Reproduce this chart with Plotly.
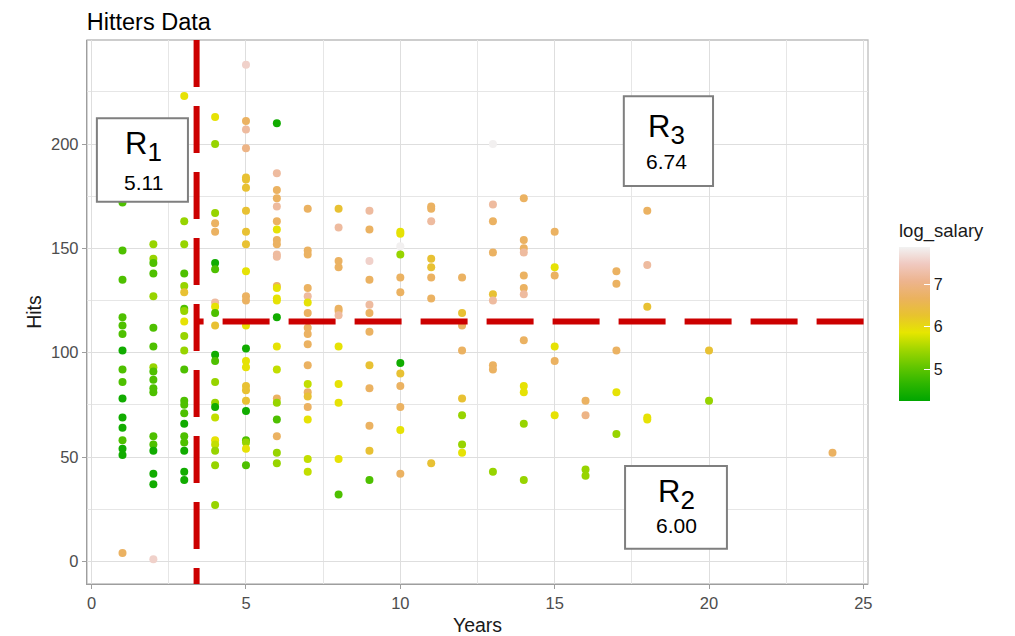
import plotly.graph_objects as go

# colour codes -> log salary estimate
DG, G, YG, LY, Y, GY, O, OP, P, PP, W = 4.4, 4.9, 5.4, 5.65, 5.9, 6.3, 6.7, 7.0, 7.2, 7.55, 7.85

years_1 = [172, 149, 135, 117, 113, 109, 101, 92, 86, 78, 69, 64, 58, 54, 51, 4]
sal_1 = [G, G, G, G, G, G, DG, G, G, DG, DG, DG, G, DG, DG, O]
years_2 = [152, 145, 143, 138, 127, 112, 103, 93, 91, 87, 83, 81, 60, 56, 53, 42, 37, 1]
sal_2 = [YG, YG, G, G, YG, G, G, YG, G, G, G, G, G, G, DG, DG, DG, PP]
years_3 = [223, 163, 152, 138, 132, 129, 121, 120, 115, 108, 101, 92, 77, 75, 71, 66, 60, 57, 53, 43, 39]
sal_3 = [Y, YG, YG, G, YG, GY, G, YG, Y, YG, YG, G, G, G, G, DG, G, G, DG, DG, DG]
years_4 = [213, 200, 167, 162, 158, 143, 140, 124, 122, 119, 113, 99, 96, 86, 76, 74, 69, 58, 56, 53, 46, 27]
sal_4 = [Y, YG, YG, O, O, DG, G, P, Y, G, GY, DG, G, YG, YG, DG, LY, Y, LY, YG, YG, YG]
years_5 = [238, 211, 207, 198, 184, 183, 179, 168, 158, 152, 139, 127, 125, 113, 102, 96, 93, 84, 82, 77, 72, 58, 57, 54, 46]
sal_5 = [PP, O, P, OP, GY, GY, GY, GY, GY, GY, Y, O, O, Y, DG, Y, Y, GY, GY, GY, DG, G, YG, Y, G]
years_6 = [210, 186, 178, 174, 170, 163, 159, 154, 152, 147, 146, 132, 131, 126, 125, 117, 103, 92, 78, 76, 68, 60, 52, 47]
sal_6 = [DG, P, O, O, P, O, Y, O, O, P, P, O, Y, Y, Y, DG, Y, LY, O, YG, G, O, YG, YG]
years_7 = [169, 149, 147, 131, 127, 124, 119, 112, 109, 104, 94, 85, 81, 79, 74, 68, 49, 43]
sal_7 = [O, O, O, O, P, Y, O, O, O, O, O, LY, O, GY, O, Y, LY, LY]
years_8 = [169, 160, 144, 141, 121, 120, 118, 103, 85, 76, 49, 32]
sal_8 = [GY, P, O, O, O, O, P, Y, Y, Y, Y, G]
years_9 = [168, 159, 144, 135, 123, 119, 110, 94, 83, 65, 53, 39]
sal_9 = [P, O, PP, O, P, O, O, GY, O, O, GY, G]
years_10 = [158, 157, 151, 147, 136, 129, 95, 90, 84, 74, 63, 42]
sal_10 = [Y, Y, W, YG, O, O, DG, GY, O, O, Y, O]
years_11 = [170, 169, 163, 145, 141, 136, 126, 47]
sal_11 = [O, O, P, GY, GY, O, O, GY]
years_12 = [136, 119, 113, 101, 78, 70, 56, 52]
sal_12 = [O, GY, O, O, GY, YG, YG, Y]
years_13 = [200, 171, 163, 148, 128, 125, 94, 92, 43]
sal_13 = [W, P, O, O, GY, P, O, O, YG]
years_14 = [174, 154, 150, 148, 137, 131, 128, 106, 84, 81, 66, 39]
sal_14 = [O, O, O, P, O, O, P, O, Y, Y, YG, YG]
years_15 = [158, 141, 137, 103, 96, 70]
sal_15 = [O, Y, O, Y, O, Y]
years_16 = [77, 70, 44, 41]
sal_16 = [O, OP, YG, YG]
years_17 = [139, 133, 101, 81, 61]
sal_17 = [O, O, O, Y, YG]
years_18 = [168, 142, 122, 69, 68]
sal_18 = [O, P, GY, Y, Y]
years_20 = [101, 77]
sal_20 = [GY, YG]
years_24 = [52]
sal_24 = [O]

groups = {1: (years_1, sal_1), 2: (years_2, sal_2), 3: (years_3, sal_3), 4: (years_4, sal_4),
          5: (years_5, sal_5), 6: (years_6, sal_6), 7: (years_7, sal_7), 8: (years_8, sal_8),
          9: (years_9, sal_9), 10: (years_10, sal_10), 11: (years_11, sal_11), 12: (years_12, sal_12),
          13: (years_13, sal_13), 14: (years_14, sal_14), 15: (years_15, sal_15), 16: (years_16, sal_16),
          17: (years_17, sal_17), 18: (years_18, sal_18), 20: (years_20, sal_20), 24: (years_24, sal_24)}

Years, Hits, log_salary = [], [], []
for yr, (h, s) in groups.items():
    Years += [yr] * len(h)
    Hits += h
    log_salary += s

split_years = 3.4
split_hits = 115
region_subs = ["1", "2", "3"]
region_values = ["5.11", "6.00", "6.74"]

terrain = ["#00A600", "#2DB600", "#63C600", "#A0D600", "#E6E600",
           "#E8C32E", "#EBB25E", "#EDB48E", "#F0C9C0", "#F2F2F2"]
cscale = [[i / 9, c] for i, c in enumerate(terrain)]

FONT = "Liberation Sans, Arial, sans-serif"

fig = go.Figure()
fig.add_trace(go.Scatter(
    x=Years, y=Hits, mode="markers",
    marker=dict(size=8, color=log_salary, colorscale=cscale, cmin=4.25, cmax=7.87,
                line=dict(width=0),
                colorbar=dict(title=dict(text="log_salary", side="top",
                                         font=dict(size=18.5, color="#1a1a1a", family=FONT)),
                              tickvals=[5, 6, 7], ticks="inside", tickcolor="white", ticklen=6,
                              tickfont=dict(size=16, color="#1a1a1a", family=FONT),
                              thickness=31, lenmode="pixels", len=181,
                              x=1.0397, xanchor="left", xpad=0, ypad=0,
                              y=0.3364, yanchor="bottom", outlinewidth=0)),
    showlegend=False, hoverinfo="skip"))

red = "#CC0000"
shapes = [
    dict(type="line", xref="x", yref="paper", x0=split_years, x1=split_years, y0=1, y1=0,
         line=dict(color=red, width=6, dash="47px,19px")),
    dict(type="line", xref="x", yref="y", x0=split_years, x1=25.2, y0=split_hits, y1=split_hits,
         line=dict(color=red, width=6, dash="7px,19px,40px,0px")),
    dict(type="rect", xref="paper", yref="paper", x0=0, x1=1, y0=0, y1=1,
         line=dict(color="#BDBDBD", width=1.3), layer="below"),
]
boxes = [(0.17, 3.12, 172.3, 212.4), (17.28, 20.58, 6.1, 45.7), (17.24, 20.13, 179.9, 222.9)]
for (x0, x1, y0, y1) in boxes:
    shapes.append(dict(type="rect", xref="x", yref="y", x0=x0, x1=x1, y0=y0, y1=y1,
                       fillcolor="white", line=dict(color="#7F7F7F", width=2)))

annotations = []
label_pos = [(1.68, 198.6, 181.4), (18.95, 32.0, 17.0), (18.62, 207.2, 191.4)]
for (xc, yr, yv), s, v in zip(label_pos, region_subs, region_values):
    annotations.append(dict(x=xc, y=yr, xref="x", yref="y",
                            text="R<sub><span style='font-size:26px'>" + s + "</span></sub>",
                            showarrow=False,
                            font=dict(size=31, color="black", family=FONT), yanchor="middle"))
    annotations.append(dict(x=xc, y=yv, xref="x", yref="y", text=v, showarrow=False,
                            font=dict(size=21, color="black", family=FONT), yanchor="middle"))

axis_common = dict(showgrid=True, gridcolor="#DEDEDE", gridwidth=1, zeroline=False,
                   showline=True, linecolor="#9E9E9E", linewidth=1.3,
                   ticks="outside", ticklen=4, tickcolor="#9E9E9E", automargin=False,
                   tickfont=dict(size=16.5, color="#4D4D4D", family=FONT))

fig.update_layout(
    width=1007, height=628,
    margin=dict(l=79, r=147, t=32, b=52),
    paper_bgcolor="white", plot_bgcolor="white",
    title=dict(text="Hitters Data", x=0.0782, xanchor="left", y=1 - 13.5 / 628, yanchor="middle",
               font=dict(size=23.5, color="black", family=FONT)),
    xaxis=dict(range=[-0.15, 25.15], tick0=0, dtick=5,
               minor=dict(dtick=2.5, showgrid=True, gridcolor="#E6E6E6", ticks=""),
               title=dict(text="Years", font=dict(size=19.5, color="#1a1a1a", family=FONT), standoff=9),
               **axis_common),
    yaxis=dict(range=[-10.85, 249.85], tick0=0, dtick=50,
               minor=dict(dtick=25, showgrid=True, gridcolor="#E6E6E6", ticks=""),
               title=dict(text="Hits", font=dict(size=19.5, color="#1a1a1a", family=FONT), standoff=4),
               **axis_common),
    shapes=shapes, annotations=annotations,
)

fig.write_html("out.html")
